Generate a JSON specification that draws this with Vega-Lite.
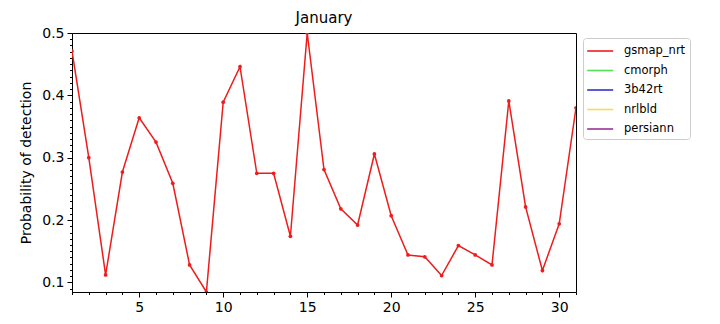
{
  "$schema": "https://vega.github.io/schema/vega-lite/v6.json",
  "autosize": {"type": "none"},
  "width": 504,
  "height": 259,
  "padding": {"left": 72, "top": 33, "right": 144, "bottom": 32},
  "background": "white",
  "title": {"text": "January", "fontSize": 15, "fontWeight": "normal", "font": "DejaVu Sans", "color": "black", "offset": 0, "anchor": "middle"},
  "config": {
    "view": {"stroke": "black", "strokeWidth": 1},
    "font": "DejaVu Sans"
  },
  "data": {"values": [
    {"day": 1, "pod": 0.471, "series": "gsmap_nrt"},
    {"day": 2, "pod": 0.300, "series": "gsmap_nrt"},
    {"day": 3, "pod": 0.112, "series": "gsmap_nrt"},
    {"day": 4, "pod": 0.277, "series": "gsmap_nrt"},
    {"day": 5, "pod": 0.364, "series": "gsmap_nrt"},
    {"day": 6, "pod": 0.325, "series": "gsmap_nrt"},
    {"day": 7, "pod": 0.259, "series": "gsmap_nrt"},
    {"day": 8, "pod": 0.128, "series": "gsmap_nrt"},
    {"day": 9, "pod": 0.0846, "series": "gsmap_nrt"},
    {"day": 10, "pod": 0.389, "series": "gsmap_nrt"},
    {"day": 11, "pod": 0.446, "series": "gsmap_nrt"},
    {"day": 12, "pod": 0.275, "series": "gsmap_nrt"},
    {"day": 13, "pod": 0.275, "series": "gsmap_nrt"},
    {"day": 14, "pod": 0.174, "series": "gsmap_nrt"},
    {"day": 15, "pod": 0.5, "series": "gsmap_nrt"},
    {"day": 16, "pod": 0.281, "series": "gsmap_nrt"},
    {"day": 17, "pod": 0.218, "series": "gsmap_nrt"},
    {"day": 18, "pod": 0.192, "series": "gsmap_nrt"},
    {"day": 19, "pod": 0.306, "series": "gsmap_nrt"},
    {"day": 20, "pod": 0.207, "series": "gsmap_nrt"},
    {"day": 21, "pod": 0.144, "series": "gsmap_nrt"},
    {"day": 22, "pod": 0.141, "series": "gsmap_nrt"},
    {"day": 23, "pod": 0.111, "series": "gsmap_nrt"},
    {"day": 24, "pod": 0.159, "series": "gsmap_nrt"},
    {"day": 25, "pod": 0.144, "series": "gsmap_nrt"},
    {"day": 26, "pod": 0.128, "series": "gsmap_nrt"},
    {"day": 27, "pod": 0.391, "series": "gsmap_nrt"},
    {"day": 28, "pod": 0.221, "series": "gsmap_nrt"},
    {"day": 29, "pod": 0.119, "series": "gsmap_nrt"},
    {"day": 30, "pod": 0.194, "series": "gsmap_nrt"},
    {"day": 31, "pod": 0.380, "series": "gsmap_nrt"}
  ]},
  "mark": {"type": "line", "strokeWidth": 1.5, "clip": true, "point": {"filled": true, "size": 14}},
  "encoding": {
    "x": {
      "field": "day", "type": "quantitative",
      "scale": {"domain": [1, 31], "nice": false, "zero": false},
      "axis": {
        "title": null,
        "values": [1,2,3,4,5,6,7,8,9,10,11,12,13,14,15,16,17,18,19,20,21,22,23,24,25,26,27,28,29,30,31],
        "labelExpr": "datum.value % 5 == 0 ? datum.label : ''",
        "labelOverlap": false,
        "labelFontSize": 14,
        "labelColor": "black",
        "labelPadding": 3,
        "labelFlush": false,
        "tickColor": "black",
        "tickSize": {"condition": {"test": "datum.value % 5 == 0", "value": 5}, "value": 2.5},
        "domainColor": "black",
        "grid": false
      }
    },
    "y": {
      "field": "pod", "type": "quantitative",
      "scale": {"domain": [0.0846, 0.5], "nice": false, "zero": false},
      "axis": {
        "title": "Probability of detection",
        "titleFontSize": 14,
        "titleFontWeight": "normal",
        "titleColor": "black",
        "titlePadding": 8,
        "values": [0.09,0.1,0.11,0.12,0.13,0.14,0.15,0.16,0.17,0.18,0.19,0.2,0.21,0.22,0.23,0.24,0.25,0.26,0.27,0.28,0.29,0.3,0.31,0.32,0.33,0.34,0.35,0.36,0.37,0.38,0.39,0.4,0.41,0.42,0.43,0.44,0.45,0.46,0.47,0.48,0.49,0.5],
        "labelExpr": "abs(datum.value*10 - round(datum.value*10)) < 0.001 ? format(datum.value, '.1f') : ''",
        "labelOverlap": false,
        "labelFontSize": 14,
        "labelColor": "black",
        "labelPadding": 3,
        "labelFlush": false,
        "tickColor": "black",
        "tickSize": {"condition": {"test": "abs(datum.value*10 - round(datum.value*10)) < 0.001", "value": 5}, "value": 2.5},
        "domainColor": "black",
        "grid": false
      }
    },
    "color": {
      "field": "series", "type": "nominal",
      "scale": {
        "domain": ["gsmap_nrt", "cmorph", "3b42rt", "nrlbld", "persiann"],
        "range": ["#ee1c1c", "#55e055", "#3333cc", "#f5dd55", "#993399"]
      },
      "legend": {
        "title": null,
        "orient": "none",
        "legendX": 511,
        "legendY": 5,
        "symbolType": "M-1.1,0H2.15",
        "symbolSize": 256,
        "symbolStrokeWidth": 1.6,
        "labelFontSize": 11.5,
        "labelColor": "black",
        "labelOffset": 19,
        "rowPadding": 4.5,
        "padding": 4,
        "strokeColor": "#cccccc",
        "fillColor": "white",
        "cornerRadius": 3
      }
    }
  }
}
